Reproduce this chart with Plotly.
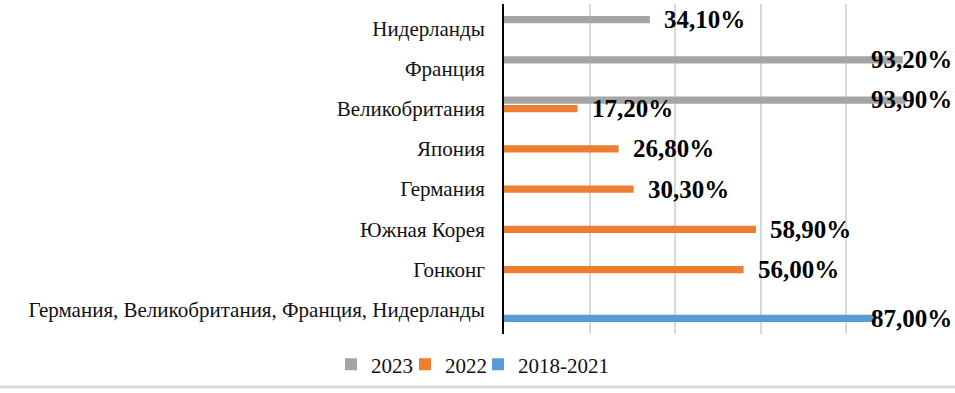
import plotly.graph_objects as go

categories = ["Германия, Великобритания, Франция, Нидерланды", "Гонконг", "Южная Корея",
              "Германия", "Япония", "Великобритания", "Франция", "Нидерланды"]
series_names = ["2018-2021", "2022", "2023"]
v_2018_2021 = [87.0, None, None, None, None, None, None, None]
v_2022 = [None, 56.0, 58.9, 30.3, 26.8, 17.2, None, None]
v_2023 = [None, None, None, None, None, 93.9, 93.2, 34.1]
colors = ["#5B9BD5", "#ED7D31", "#A5A5A5"]
legend_ids = ["legend3", "legend2", "legend"]
legend_text_left = [520, 447, 373]   # where each legend entry's text begins (px)

W, H = 955, 393
ML, MR, MT, MB = 504, 23, 4, 59
BARGAP = 0.367
FONT = "Liberation Serif, Times New Roman, serif"

fig = go.Figure()
all_vals = [v_2018_2021, v_2022, v_2023]
for name, vals, col, lg in zip(series_names, all_vals, colors, legend_ids):
    fig.add_trace(go.Bar(y=categories, x=vals, name=name, orientation="h", legend=lg,
                         showlegend=True,
                         marker=dict(color=col, line=dict(width=0))))

plot_w = W - ML - MR
plot_h = H - MT - MB
cat_px = plot_h / len(categories)
slot = cat_px * (1 - BARGAP) / 3
px_per_unit = plot_w / 100.0

annotations = []
for si, vals in enumerate(all_vals):
    yshift = (si - 1) * slot
    for c, v in zip(categories, vals):
        if v is None:
            continue
        txt = f"{v:.2f}".replace(".", ",") + "%"
        lf = dict(family=FONT, size=25, color="black", weight="bold")
        if v * px_per_unit + 13 + 82 > W - ML:
            annotations.append(dict(x=1, xref="paper", y=c, yref="y", text=txt,
                                    xanchor="right", xshift=22, yshift=yshift,
                                    showarrow=False, font=lf))
        else:
            annotations.append(dict(x=v, xref="x", y=c, yref="y", text=txt,
                                    xanchor="left", xshift=12, yshift=yshift,
                                    showarrow=False, font=lf))

legend_layouts = {}
for lg, tl in zip(legend_ids, legend_text_left):
    legend_layouts[lg] = dict(orientation="h", xref="container", yref="container",
                              x=(tl - 42) / W, xanchor="left", y=0.072, yanchor="middle",
                              font=dict(family=FONT, size=21, color="#111"), itemwidth=30,
                              bgcolor="rgba(0,0,0,0)", visible=True)

fig.update_layout(
    width=W, height=H,
    showlegend=True,
    margin=dict(l=ML, r=MR, t=MT, b=MB),
    plot_bgcolor="white", paper_bgcolor="white",
    barmode="group", bargap=BARGAP, bargroupgap=0.14,
    font=dict(family=FONT, size=21, color="black"),
    annotations=annotations,
    xaxis=dict(range=[0, 100.05], dtick=20, showticklabels=False, showgrid=True,
               gridcolor="#D9D9D9", gridwidth=1.5, zeroline=False, fixedrange=True),
    yaxis=dict(categoryorder="array", categoryarray=categories, showline=True,
               linecolor="black", linewidth=2, ticks="", ticklabelstandoff=13,
               tickfont=dict(family=FONT, size=21, color="#111"), fixedrange=True),
    shapes=[dict(type="line", xref="paper", yref="paper",
                 x0=-ML / plot_w, x1=(W - ML) / plot_w,
                 y0=-(387 - (H - MB)) / plot_h, y1=-(387 - (H - MB)) / plot_h,
                 line=dict(color="#D9D9D9", width=3))],
    **legend_layouts,
)

fig.write_html("out.html", config={"displayModeBar": False},
               post_script="document.body.style.margin='0';document.body.style.overflow='hidden';")
